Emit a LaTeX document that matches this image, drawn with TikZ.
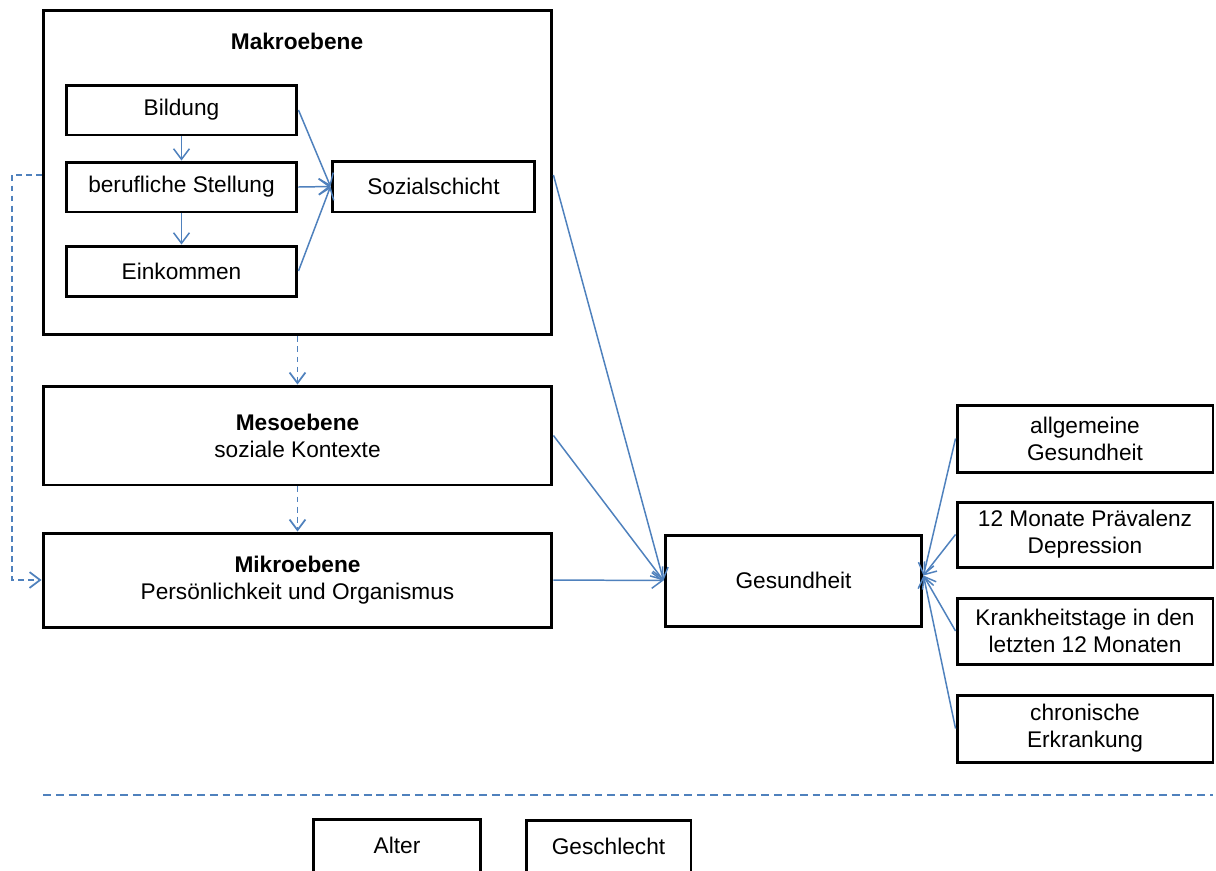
\documentclass[tikz,border=0pt]{standalone}
\usepackage{fontspec}
\setmainfont{Liberation Sans}
\usepackage{tikz}
\usetikzlibrary{arrows.meta,positioning,calc}
\definecolor{LinkBlue}{HTML}{4F81BD}
\definecolor{BoxInk}{HTML}{000000}
\tikzset{
  figlabel/.style={font=\fontsize{12.9}{15.4}\selectfont, text=BoxInk},
  figtitle/.style={font=\fontsize{12.9}{15.4}\selectfont\bfseries, text=BoxInk},
  levelbox/.style={draw=BoxInk, line width=1.7pt, fill=white, inner sep=0pt, align=center},
  figarrow/.style={-{Straight Barb[length=6pt,width=9pt]}, line width=0.85pt, draw=LinkBlue},
  figdashed/.style={figarrow, line width=1pt, dash pattern=on 3.4pt off 2.3pt},
  figsplit/.style={line width=1.3pt, draw=LinkBlue, dash pattern=on 4.5pt off 2.8pt}
}
\begin{document}
\begin{tikzpicture}[x=0.02cm, y=-0.02cm, every node/.style={figlabel}]
\useasboundingbox (0,0) rectangle (1216,870);
% Makroebene
\node[levelbox, minimum width=10.18cm, minimum height=6.5cm] (makro) at (297.5,172.5) {};
\node[figtitle] (makrotitle) at (297,41) {Makroebene};
\node[levelbox, minimum width=4.62cm, minimum height=1cm] (bildung) at (181.5,110) {Bildung};
\node[levelbox, minimum width=4.62cm, minimum height=1cm] (stellung) at (181.5,187) {berufliche Stellung};
\node[levelbox, minimum width=4.62cm, minimum height=1cm] (einkommen) at (181.5,271) {Einkommen};
\node[levelbox, minimum width=4.06cm, minimum height=1.02cm] (sozial) at (433.5,186.5) {Sozialschicht};
% Meso / Mikro
\node[levelbox, minimum width=10.18cm, minimum height=1.98cm] (meso) at (297.5,435.5) {\textbf{Mesoebene}\\soziale Kontexte};
\node[levelbox, minimum width=10.18cm, minimum height=1.88cm] (mikro) at (297.5,580) {\textbf{Mikroebene}\\Persönlichkeit und Organismus};
% Gesundheit
\node[levelbox, minimum width=5.14cm, minimum height=1.82cm] (gesund) at (793.5,580.5) {Gesundheit};
\node[levelbox, minimum width=5.12cm, minimum height=1.34cm] (allg) at (1085,438.5) {allgemeine\\Gesundheit};
\node[levelbox, minimum width=5.12cm, minimum height=1.3cm] (depr) at (1085,534.5) {12 Monate Prävalenz\\Depression};
\node[levelbox, minimum width=5.12cm, minimum height=1.32cm] (krank) at (1085,631) {Krankheitstage in den\\letzten 12 Monaten};
\node[levelbox, minimum width=5.12cm, minimum height=1.34cm] (chron) at (1085,728.5) {chronische\\Erkrankung};
% Kontrollvariablen
\node[levelbox, minimum width=3.36cm, minimum height=1.06cm] (alter) at (397,845.5) {Alter};
\node[levelbox, minimum width=3.3cm, minimum height=1.04cm] (geschl) at (608.5,846) {Geschlecht};
\coordinate (splitL) at (43,795);
\coordinate (splitR) at (1213,795);
\coordinate (loopL) at (12,175);
% connectors
\draw[figarrow] (bildung) -- (stellung);
\draw[figarrow] (stellung) -- (einkommen);
\draw[figarrow] (bildung.east) -- (sozial.west);
\draw[figarrow] (stellung.east) -- (sozial.west);
\draw[figarrow] (einkommen.east) -- (sozial.west);
\draw[figdashed] (makro.south) -- (meso.north);
\draw[figdashed] (meso.south) -- (mikro.north);
\draw[figdashed] (makro.west |- loopL) -- (loopL) |- (mikro.west);
\draw[figarrow] (makro.east |- loopL) -- (gesund.west);
\draw[figarrow] (meso.east) -- (gesund.west);
\draw[figarrow] (mikro.east) -- (gesund.west);
\foreach \n in {allg,depr,krank,chron}
  \draw[figarrow] (\n.west) -- ($(gesund.east)+(0,-5)$);
\draw[figsplit] (splitL) -- (splitR);
\end{tikzpicture}
\end{document}
